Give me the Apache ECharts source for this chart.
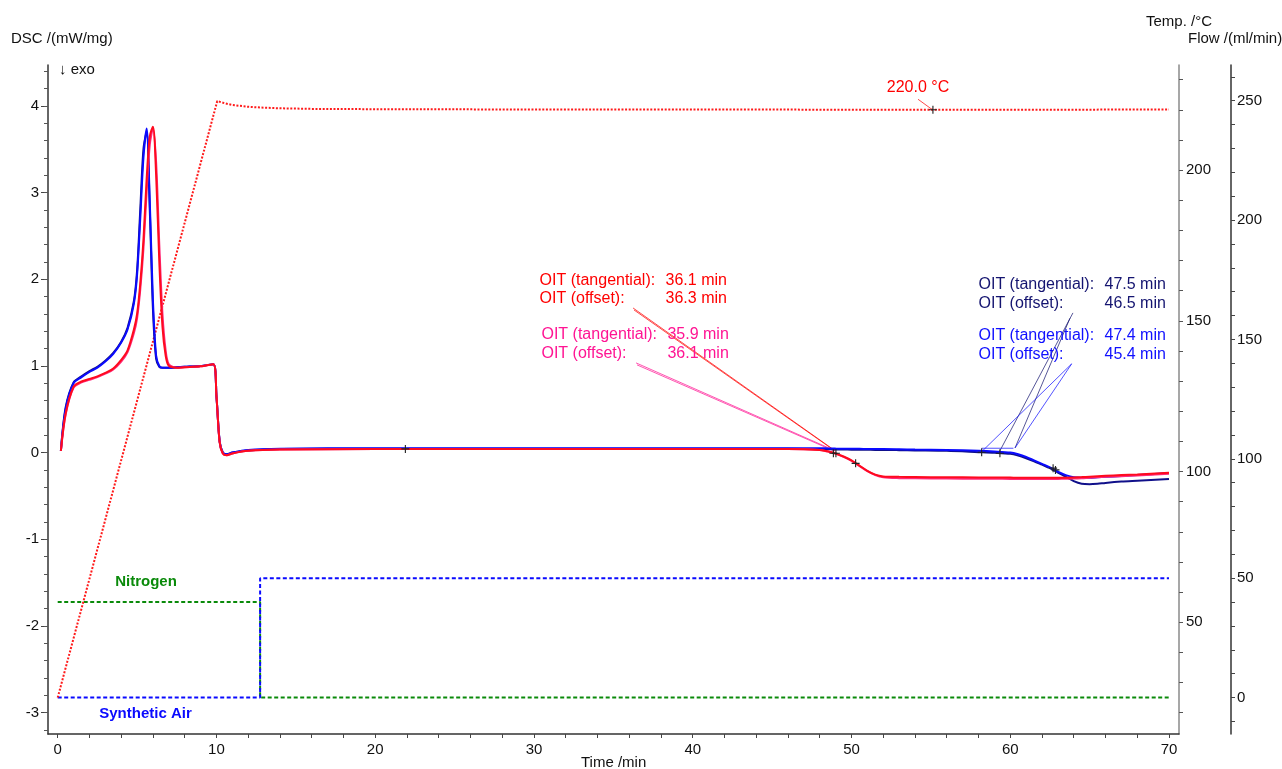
<!DOCTYPE html>
<html>
<head>
<meta charset="utf-8">
<script src="https://cdn.jsdelivr.net/npm/echarts@6/dist/echarts.min.js"></script>
<style>
html,body{margin:0;padding:0;background:#fff;}
#chart{width:1282px;height:769px;}
</style>
</head>
<body>
<div id="chart"></div>
<script>
// ---------------- DATA ----------------
// DSC curves share one time base (min)
const timeDSC = [0.2,0.5,1,1.5,2,2.5,3,3.5,4,4.4,4.8,5.0,5.2,5.4,5.6,5.8,6.0,6.2,6.4,6.6,6.8,7.0,7.5,8,9,9.8,10.0,10.2,10.4,10.65,11,12,14,20,30,40,46,48,48.5,49,49.5,50,50.5,51,51.5,52,53,54,56,58,59,60,60.5,61,61.5,62,62.5,63,63.5,64,64.5,65,65.5,66,67,68,70];

const dscBlue = [0.02,0.5,0.8,0.87,0.93,0.98,1.05,1.14,1.27,1.42,1.72,2.05,2.7,3.4,3.74,2.9,1.75,1.12,1.0,0.98,0.98,0.98,0.985,0.99,1.0,1.02,0.65,0.13,0.0,-0.02,0.0,0.03,0.045,0.05,0.05,0.05,0.05,0.05,0.048,0.046,0.045,0.044,0.043,0.042,0.04,0.04,0.038,0.035,0.03,0.02,0.012,0.0,-0.02,-0.05,-0.09,-0.13,-0.17,-0.22,-0.26,-0.285,-0.29,-0.29,-0.285,-0.28,-0.27,-0.26,-0.235];

const dscNavy = [0.02,0.52,0.81,0.88,0.94,0.99,1.06,1.15,1.28,1.44,1.75,2.1,2.8,3.5,3.7,2.8,1.65,1.08,0.99,0.98,0.98,0.98,0.985,0.99,1.0,1.02,0.65,0.13,0.0,-0.02,0.0,0.025,0.04,0.045,0.045,0.045,0.045,0.04,0.038,0.036,0.035,0.034,0.033,0.032,0.03,0.03,0.028,0.025,0.02,0.005,-0.003,-0.015,-0.035,-0.065,-0.1,-0.14,-0.18,-0.23,-0.28,-0.33,-0.36,-0.365,-0.36,-0.35,-0.335,-0.325,-0.305];

const dscRed = [0.02,0.45,0.76,0.82,0.85,0.88,0.92,0.97,1.07,1.18,1.42,1.6,1.95,2.45,3.15,3.65,3.76,3.2,2.2,1.45,1.12,1.0,0.98,0.985,0.995,1.02,0.65,0.12,-0.01,-0.03,-0.01,0.02,0.035,0.04,0.04,0.04,0.04,0.03,0.015,-0.01,-0.045,-0.09,-0.15,-0.21,-0.255,-0.275,-0.28,-0.282,-0.285,-0.287,-0.288,-0.289,-0.29,-0.29,-0.29,-0.29,-0.29,-0.29,-0.29,-0.287,-0.283,-0.278,-0.273,-0.268,-0.26,-0.252,-0.232];

const dscPink = [0.02,0.44,0.75,0.81,0.84,0.87,0.91,0.96,1.05,1.16,1.38,1.55,1.88,2.35,3.0,3.55,3.74,3.35,2.4,1.6,1.18,1.02,0.98,0.985,0.995,1.02,0.65,0.12,-0.01,-0.03,-0.01,0.02,0.035,0.04,0.04,0.04,0.04,0.03,0.012,-0.012,-0.05,-0.095,-0.155,-0.215,-0.26,-0.285,-0.295,-0.297,-0.3,-0.302,-0.303,-0.304,-0.305,-0.305,-0.305,-0.305,-0.305,-0.304,-0.302,-0.3,-0.296,-0.29,-0.285,-0.28,-0.272,-0.264,-0.245];

// Temperature (°C)
const timeTemp = [0,10.05,10.5,11,12,13,14,16,20,30,40,55.13,60,70];
const tempC    = [25,222.9,222.2,221.6,221.0,220.7,220.5,220.3,220.2,220.1,220.1,220.0,220.0,220.1];

// Gas flows (ml/min)
const timeFlow     = [0,12.75,12.75,70];
const flowNitrogen = [40,40,0,0];
const flowAir      = [0,0,50,50];

// Axis ticks and labels
const xLabels   = [0,10,20,30,40,50,60,70];
const xTicks    = [0,2,4,6,8,10,12,14,16,18,20,22,24,26,28,30,32,34,36,38,40,42,44,46,48,50,52,54,56,58,60,62,64,66,68,70];
const dscLabels = [-3,-2,-1,0,1,2,3,4];
const dscMinor  = [-3.2,-3,-2.8,-2.6,-2.4,-2.2,-2,-1.8,-1.6,-1.4,-1.2,-1,-0.8,-0.6,-0.4,-0.2,0,0.2,0.4,0.6,0.8,1,1.2,1.4,1.6,1.8,2,2.2,2.4,2.6,2.8,3,3.2,3.4,3.6,3.8,4,4.2,4.4];
const tempLabels = [50,100,150,200];
const tempTicks  = [20,30,40,50,60,70,80,90,100,110,120,130,140,150,160,170,180,190,200,210,220,230];
const flowLabels = [0,50,100,150,200,250];
const flowTicks  = [-10,0,10,20,30,40,50,60,70,80,90,100,110,120,130,140,150,160,170,180,190,200,210,220,230,240,250,260];

// OIT annotations (anchor in time / DSC units)
const oitNames  = ['OIT (tangential):','OIT (offset):','OIT (tangential):','OIT (offset):','OIT (tangential):','OIT (offset):','OIT (tangential):','OIT (offset):'];
const oitValues = ['36.1 min','36.3 min','35.9 min','36.1 min','47.5 min','46.5 min','47.4 min','45.4 min'];
const oitT      = [30.32,30.32,30.44,30.44,57.97,57.97,57.97,57.97];
const oitDSC    = [1.984,1.773,1.357,1.138,1.934,1.715,1.349,1.135];
const oitGroup  = [0,0,1,1,2,2,3,3];

// leader lines: start (t1, v1) -> end (t2, v2), colour group
const leaderT1  = [36.24,36.30,36.43,36.49,63.95,63.76,63.87,63.87,58.2];
const leaderV1  = [1.669,1.646,1.035,1.012,1.612,1.55,1.024,1.024,0.05];
const leaderT2  = [48.77,48.96,48.71,48.90,59.31,60.3,58.2,60.3,60.2];
const leaderV2  = [0.047,0.018,0.042,0.018,0.007,0.053,0.01,0.053,0.05];
const leaderGrp = [0,0,1,1,2,2,3,3,3];

// evaluation markers "+"
const markT   = [21.9,48.86,49.02,50.26,58.2,59.35,62.7,62.85];
const markDSC = [0.042,-0.008,-0.008,-0.124,0.003,-0.008,-0.18,-0.2];
const tempMarkT = [55.13];
const tempMarkV = [220.0];

// temperature annotation
const tempNoteT = [54.19], tempNoteV = [227.2], tempNoteText = ['220.0 °C'];
const tempLeadT = [54.19,55.13], tempLeadV = [223.5,219.9];

// gas labels (time / flow units)
const gasNames = ['Nitrogen','Synthetic Air'];
const gasT = [5.56,5.53];
const gasV = [48.4,-6.87];

// ---------------- STYLE / LAYOUT ----------------
const FONT = 'Liberation Sans, Arial, Helvetica, sans-serif';
const groupColors = ['#ff0000','#ff1493','#141470','#1010ff'];
const zipPts = (a,b) => a.map((v,i)=>[v,b[i]]);

const chart = echarts.init(document.getElementById('chart'), null, {renderer:'canvas'});

const series = [];

// flows
series.push({type:'line', xAxisIndex:0, yAxisIndex:3, data:zipPts(timeFlow,flowNitrogen), symbol:'none', silent:true,
  lineStyle:{color:'#0a8a0a', width:2, type:[4,2.5]}, z:2});
series.push({type:'line', xAxisIndex:0, yAxisIndex:3, data:zipPts(timeFlow,flowAir), symbol:'none', silent:true,
  lineStyle:{color:'#0a0aff', width:2, type:[4,2.5]}, z:2});
// temperature
series.push({type:'line', xAxisIndex:0, yAxisIndex:2, data:zipPts(timeTemp,tempC), symbol:'none', silent:true,
  lineStyle:{color:'#ff1a1a', width:2, type:[2,1.6]}, z:2});

// leader lines
leaderT1.forEach((t,i)=>{
  series.push({type:'line', xAxisIndex:0, yAxisIndex:0, data:[[t,leaderV1[i]],[leaderT2[i],leaderV2[i]]],
    symbol:'none', silent:true, lineStyle:{color:groupColors[leaderGrp[i]], width:0.8, opacity:0.9}, z:3});
});

// DSC curves
const curve = (vals,color,z)=>({type:'line', xAxisIndex:0, yAxisIndex:0, data:zipPts(timeDSC,vals),
  symbol:'none', silent:true, smooth:0.3, lineStyle:{color:color, width:2}, z:z});
series.push(curve(dscNavy,'#10108a',4));
series.push(curve(dscBlue,'#0a0aff',5));
series.push(curve(dscPink,'#ff2a7a',6));
series.push(curve(dscRed,'#ff0a1e',7));

// markers
const plusPath = 'path://M4.3,0h1.4v10h-1.4z M0,4.3h10v1.4h-10z';
series.push({type:'scatter', xAxisIndex:0, yAxisIndex:0, data:zipPts(markT,markDSC), symbol:plusPath, symbolSize:8,
  itemStyle:{color:'#222', opacity:1}, silent:true, z:8});
series.push({type:'scatter', xAxisIndex:0, yAxisIndex:2, data:zipPts(tempMarkT,tempMarkV), symbol:plusPath, symbolSize:8,
  itemStyle:{color:'#222', opacity:1}, silent:true, z:8});

// temp leader + note
series.push({type:'line', xAxisIndex:0, yAxisIndex:2, data:zipPts(tempLeadT,tempLeadV), symbol:'none', silent:true,
  lineStyle:{color:'#ff1a1a', width:0.8}, z:3});
series.push({type:'scatter', xAxisIndex:0, yAxisIndex:2, silent:true, symbolSize:1, itemStyle:{color:'transparent', opacity:1},
  data: tempNoteT.map((t,i)=>({value:[t,tempNoteV[i]], label:{show:true, position:'inside', formatter:tempNoteText[i],
    color:'#ff0000', opacity:1, fontSize:16, fontFamily:FONT}})), z:9});

// OIT texts
series.push({type:'scatter', xAxisIndex:0, yAxisIndex:0, silent:true, symbolSize:1, itemStyle:{color:'transparent', opacity:1}, z:9,
  data: oitT.map((t,i)=>{
    const c = groupColors[oitGroup[i]];
    return {value:[t,oitDSC[i]], label:{show:true, position:'right', distance:0, opacity:1,
      formatter:'{a|'+oitNames[i]+'}{b|'+oitValues[i]+'}',
      rich:{a:{width:126, color:c, fontSize:16, fontFamily:FONT}, b:{color:c, fontSize:16, fontFamily:FONT}}}};
  })});

// gas labels
const gasColors = ['#0a8a0a','#0a0aff'];
series.push({type:'scatter', xAxisIndex:0, yAxisIndex:3, silent:true, symbolSize:1, itemStyle:{color:'transparent', opacity:1}, z:9,
  data: gasT.map((t,i)=>({value:[t,gasV[i]], label:{show:true, position:'inside', formatter:gasNames[i], opacity:1,
    color:gasColors[i], fontSize:15, fontWeight:'bold', fontFamily:FONT}}))});

const labelStyle = {fontSize:15, color:'#111', fontFamily:FONT};

const option = {
  animation:false,
  backgroundColor:'#ffffff',
  textStyle:{fontFamily:FONT},
  title:[
    {text:'DSC /(mW/mg)', left:11, top:31, padding:0, textStyle:{fontSize:15, fontWeight:'normal', color:'#111', fontFamily:FONT}},
    {text:'↓ exo', left:59, top:62, padding:0, textStyle:{fontSize:15, fontWeight:'normal', color:'#111', fontFamily:FONT}},
    {text:'Temp. /°C', left:1146, top:14, padding:0, textStyle:{fontSize:15, fontWeight:'normal', color:'#111', fontFamily:FONT}},
    {text:'Flow /(ml/min)', left:1188, top:31, padding:0, textStyle:{fontSize:15, fontWeight:'normal', color:'#111', fontFamily:FONT}},
    {text:'Time /min', left:581, top:755, padding:0, textStyle:{fontSize:15, fontWeight:'normal', color:'#111', fontFamily:FONT}}
  ],
  grid:{left:48, right:103, top:65, bottom:35, containLabel:false},
  xAxis:[{
    type:'value', min:-0.611, max:70.63,
    axisLine:{show:true, onZero:false, lineStyle:{color:'#333', width:1.5}},
    axisTick:{show:true, customValues:xTicks, length:4, lineStyle:{color:'#444'}},
    axisLabel:{show:true, customValues:xLabels, margin:8, ...labelStyle},
    splitLine:{show:false}
  }],
  yAxis:[
    {type:'value', position:'left', offset:0, min:-3.248, max:4.473,
      axisLine:{show:true, onZero:false, lineStyle:{color:'#333', width:1.5}},
      axisTick:{show:true, customValues:dscLabels, length:7, lineStyle:{color:'#444'}},
      axisLabel:{show:true, customValues:dscLabels, margin:9, ...labelStyle},
      splitLine:{show:false}},
    {type:'value', position:'left', offset:0, min:-3.248, max:4.473,
      axisLine:{show:false, onZero:false},
      axisTick:{show:true, customValues:dscMinor, length:4, lineStyle:{color:'#555'}},
      axisLabel:{show:false},
      splitLine:{show:false}},
    {type:'value', position:'right', offset:0, min:12.92, max:234.86,
      axisLine:{show:true, onZero:false, lineStyle:{color:'#8a8a8a', width:1.5}},
      axisTick:{show:true, customValues:tempTicks, length:4, lineStyle:{color:'#555'}},
      axisLabel:{show:true, customValues:tempLabels, margin:7, ...labelStyle},
      splitLine:{show:false}},
    {type:'value', position:'right', offset:52, min:-15.24, max:264.95,
      axisLine:{show:true, onZero:false, lineStyle:{color:'#333', width:1.5}},
      axisTick:{show:true, customValues:flowTicks, length:4, lineStyle:{color:'#444'}},
      axisLabel:{show:true, customValues:flowLabels, margin:6, ...labelStyle},
      splitLine:{show:false}}
  ],
  series: series
};
chart.setOption(option);
</script>
</body>
</html>
